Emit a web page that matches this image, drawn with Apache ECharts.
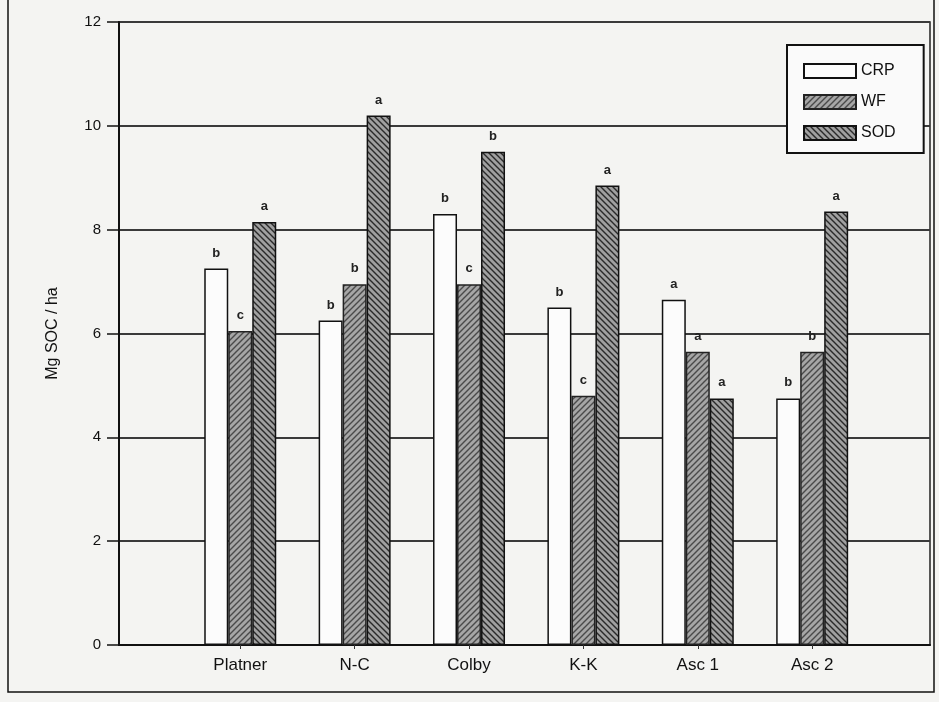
<!DOCTYPE html>
<html>
<head>
<meta charset="utf-8">
<script src="https://cdn.jsdelivr.net/npm/echarts@6/dist/echarts.min.js"></script>
<style>
html, body {margin:0; padding:0; background:#f4f4f2;}
#chart {width:939px; height:702px;}
</style>
</head>
<body>
<div id="chart"></div>
<script>
// sites along the x axis
const sites = ['Platner', 'N-C', 'Colby', 'K-K', 'Asc 1', 'Asc 2'];
// Mg SOC / ha
const crp = [7.25, 6.25, 8.3, 6.5, 6.65, 4.75];
const wf = [6.05, 6.95, 6.95, 4.8, 5.65, 5.65];
const sod = [8.15, 10.2, 9.5, 8.85, 4.75, 8.35];
// significance letters above each bar
const crpLetters = ['b', 'b', 'b', 'b', 'a', 'b'];
const wfLetters = ['c', 'b', 'c', 'c', 'a', 'b'];
const sodLetters = ['a', 'a', 'b', 'a', 'a', 'a'];
const sitePos = [1, 2, 3, 4, 5, 6];

const FONT = '"Liberation Sans", Arial, sans-serif';

function hatch(base, line, dir) {
    let c = document.createElement('canvas');
    c.width = 6; c.height = 6;
    let g = c.getContext('2d');
    g.fillStyle = base;
    g.fillRect(0, 0, 6, 6);
    g.strokeStyle = line;
    g.lineWidth = 1.4;
    g.beginPath();
    if (dir > 0) {
        g.moveTo(0, 6); g.lineTo(6, 0);
        g.moveTo(-3, 3); g.lineTo(3, -3);
        g.moveTo(3, 9); g.lineTo(9, 3);
    } else {
        g.moveTo(0, 0); g.lineTo(6, 6);
        g.moveTo(-3, 3); g.lineTo(3, 9);
        g.moveTo(3, -3); g.lineTo(9, 3);
    }
    g.stroke();
    return {image: c, repeat: 'repeat'};
}

function barSerie(name, values, letters, itemStyle) {
    return {
        name: name,
        type: 'bar',
        barWidth: 24,
        barGap: '0%',
        data: values.map((v, i) => [sitePos[i], v]),
        itemStyle: itemStyle,
        label: {
            show: true,
            position: 'top',
            distance: 9,
            fontFamily: FONT,
            fontSize: 13,
            fontWeight: 'bold',
            color: '#222',
            formatter: p => letters[p.dataIndex]
        }
    };
}

let chart = echarts.init(document.getElementById('chart'));
chart.setOption({
    backgroundColor: '#f4f4f2',
    animation: false,
    textStyle: {fontFamily: FONT},
    grid: {
        left: 119, right: 9, top: 22, bottom: 57,
        show: true, borderColor: '#222', borderWidth: 1.5
    },
    legend: {
        orient: 'vertical',
        left: 787, top: 45,
        padding: [18, 28, 12, 16],
        itemWidth: 52, itemHeight: 14, itemGap: 15,
        backgroundColor: '#fafafa',
        borderColor: '#111', borderWidth: 2,
        textStyle: {fontSize: 16, color: '#111', fontFamily: FONT},
        icon: 'rect',
        data: ['CRP', 'WF', 'SOD']
    },
    xAxis: {
        type: 'value',
        min: -0.06, max: 7.03,
        splitLine: {show: false},
        axisLine: {show: true, onZero: false, lineStyle: {color: '#111', width: 2}},
        axisTick: {show: true, customValues: sitePos, length: 4, lineStyle: {color: '#333'}},
        axisLabel: {
            customValues: sitePos,
            formatter: v => sites[Math.round(v) - 1],
            margin: 12, fontSize: 17, color: '#111', fontFamily: FONT
        }
    },
    yAxis: {
        type: 'value',
        min: 0, max: 12, interval: 2,
        name: 'Mg SOC / ha',
        nameLocation: 'middle',
        nameGap: 58,
        nameRotate: 90,
        nameTextStyle: {fontSize: 16, color: '#111', fontFamily: FONT},
        axisLine: {show: true, onZero: false, lineStyle: {color: '#111', width: 2}},
        axisTick: {show: true, length: 12, lineStyle: {color: '#111', width: 1.5}},
        axisLabel: {margin: 18, fontSize: 15, color: '#111', fontFamily: FONT},
        splitLine: {show: true, lineStyle: {color: '#3a3a3a', width: 2}}
    },
    graphic: [{
        type: 'rect',
        shape: {x: 8, y: -3, width: 926, height: 695},
        style: {fill: 'none', stroke: '#111', lineWidth: 1.5},
        silent: true
    }],
    series: [
        barSerie('CRP', crp, crpLetters, {color: '#fcfcfc', borderColor: '#111', borderWidth: 1.5}),
        barSerie('WF', wf, wfLetters, {color: hatch('#a6a6a6', '#4a4a4a', 1), borderColor: '#222', borderWidth: 1.5}),
        barSerie('SOD', sod, sodLetters, {color: hatch('#a0a0a0', '#2a2a2a', -1), borderColor: '#111', borderWidth: 1.5})
    ]
});
</script>
</body>
</html>
